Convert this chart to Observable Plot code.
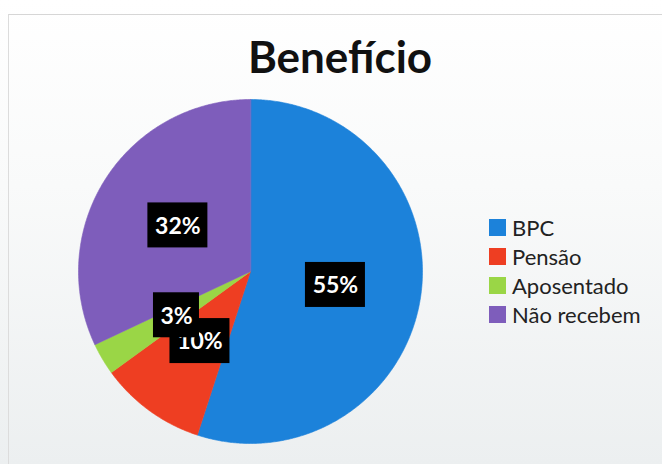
<!DOCTYPE html>
<html>
<head>
<meta charset="utf-8">
<script src="https://cdn.jsdelivr.net/npm/d3@7"></script>
<script src="https://cdn.jsdelivr.net/npm/@observablehq/plot@0.6"></script>
<style>
  html, body { margin: 0; padding: 0; }
  body { width: 662px; height: 464px; overflow: hidden;
         background: linear-gradient(to bottom, #ffffff 0%, #f9fafa 40%, #eceff0 100%); font-family: Lato, "Open Sans", sans-serif; }
  #wrap { position: relative; width: 662px; height: 464px; }
  #frame { position: absolute; left: 8px; top: 14px; width: 660px; height: 460px;
           border-top: 1px solid #d6d6d6; border-left: 1px solid #dcdcdc; }
  #title { position: absolute; left: 0; top: 34px; width: 680px; text-align: center;
           font: bold 44px/44px Lato, sans-serif; color: #111; margin: 0; }
  #chart { position: absolute; left: 0; top: 0; }
  #legend { position: absolute; left: 489px; top: 213px; font: 22px/29px Lato, sans-serif; color: #222; }
  .row { display: flex; align-items: center; height: 29px; }
  .sw { width: 17px; height: 17px; margin-right: 6px; }
</style>
</head>
<body>
<div id="wrap">
  <div id="frame"></div>
  <div id="chart"></div>
  <div id="title">Benefício</div>
  <div id="legend"></div>
</div>
<script>
const categories = ["BPC", "Pensão", "Aposentado", "Não recebem"];
const values = [55, 10, 3, 32];
const labels = ["55%", "10%", "3%", "32%"];
const colors = ["#1c82da", "#ee3e22", "#9ad646", "#7e5dbb"];
// drawing order of the data labels (later ones sit on top)
const labelOrder = ["BPC", "Não recebem", "Pensão", "Aposentado"];

const W = 662, H = 464;
const mL = 78, mR = 240, mT = 99, mB = 21;
const pxPerUnit = (W - mL - mR) / 2;

const arcs = d3.pie().sort(null).value(d => d.value)(
  categories.map((name, i) => ({name, value: values[i], label: labels[i]}))
);

const slicePts = [];
for (const a of arcs) {
  const name = a.data.name;
  slicePts.push({name, x: 0, y: 0});
  const steps = Math.max(2, Math.ceil((a.endAngle - a.startAngle) / (Math.PI / 360)));
  for (let k = 0; k <= steps; k++) {
    const t = a.startAngle + (a.endAngle - a.startAngle) * k / steps;
    slicePts.push({name, x: Math.sin(t), y: Math.cos(t)});
  }
}

const labelData = arcs.map(a => {
  const mid = (a.startAngle + a.endAngle) / 2;
  const bw = a.data.label.length >= 3 ? 60 : 46;
  return {
    name: a.data.name, label: a.data.label,
    x: 0.5 * Math.sin(mid), y: 0.5 * Math.cos(mid),
    hw: bw / 2 / pxPerUnit, hh: 22.5 / pxPerUnit
  };
});

const marks = [
  Plot.line(slicePts, {x: "x", y: "y", z: "name", fill: "name", stroke: "name", strokeWidth: 0.6, curve: "linear-closed"})
];
for (const n of labelOrder) {
  const d = labelData.filter(l => l.name === n);
  marks.push(Plot.rect(d, {x1: l => l.x - l.hw, x2: l => l.x + l.hw, y1: l => l.y - l.hh, y2: l => l.y + l.hh, fill: "black"}));
  marks.push(Plot.text(d, {x: "x", y: "y", text: "label", fill: "white", fontSize: 23, fontWeight: "bold", fontFamily: "Lato, sans-serif", textAnchor: "middle", lineAnchor: "middle", dy: 1}));
}

const plot = Plot.plot({
  width: W, height: H,
  marginLeft: mL, marginRight: mR, marginTop: mT, marginBottom: mB,
  x: {domain: [-1, 1], axis: null},
  y: {domain: [-1, 1], axis: null},
  color: {domain: categories, range: colors},
  style: {background: "transparent", overflow: "visible"},
  marks
});
document.getElementById("chart").appendChild(plot);

const legend = document.getElementById("legend");
categories.forEach((c, i) => {
  const row = document.createElement("div");
  row.className = "row";
  const sw = document.createElement("div");
  sw.className = "sw";
  sw.style.background = colors[i];
  const tx = document.createElement("span");
  tx.textContent = c;
  row.appendChild(sw);
  row.appendChild(tx);
  legend.appendChild(row);
});
</script>
</body>
</html>
